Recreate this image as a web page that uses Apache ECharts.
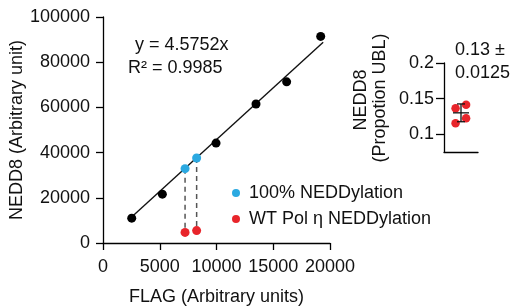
<!DOCTYPE html>
<html>
<head>
<meta charset="utf-8">
<script src="https://cdn.jsdelivr.net/npm/echarts@6/dist/echarts.min.js"></script>
<style>
  html, body { margin: 0; padding: 0; background: #fff; }
  #chart { width: 513px; height: 306px; }
</style>
</head>
<body>
<div id="chart"></div>
<script>
// standard curve: FLAG vs NEDD8 signal
const standardPoints = [[2530, 11000], [5230, 21600], [9960, 44200], [13480, 61500], [16180, 71300], [19180, 91400]];
const fitLine = [[2500, 11400], [19400, 88800]];
const fullNedd = [[7230, 32900], [8250, 37600]];
const wtPolEta = [[7230, 4700], [8250, 5500]];

// proportion panel
const propPoints = [[0.34, 0.1366], [0.34, 0.1155], [0.65, 0.1412], [0.65, 0.1225]];
const propMean = [[0.5, 0.13, 0.0125]];
const propTicks = [0.1, 0.15, 0.2];

const FONT = 'Liberation Sans, Arial, sans-serif';
const BLUE = '#2ba9e1';
const RED = '#e8252b';

const chart = echarts.init(document.getElementById('chart'));

// dashed drop lines from each blue point to its red one
const dropSeries = fullNedd.map((p, i) => ({
    type: 'line', xAxisIndex: 0, yAxisIndex: 0,
    data: [p, wtPolEta[i]],
    symbol: 'none', silent: true, z: 1,
    lineStyle: { color: '#555', width: 1.5, type: [5, 4] }
}));

const plain = v => String(v);

const axisBase = {
    axisLine: { lineStyle: { color: '#000', width: 1.3 } },
    axisTick: { length: 7, lineStyle: { color: '#000', width: 1.3 } },
    axisLabel: { color: '#111', fontSize: 18, fontFamily: FONT, formatter: plain },
    splitLine: { show: false },
    nameTextStyle: { color: '#111', fontSize: 18, fontFamily: FONT }
};

chart.setOption({
    animation: false,
    textStyle: { fontFamily: FONT },
    grid: [
        { left: 103, top: 17, width: 227, height: 226, outerBoundsMode: 'none', containLabel: false },
        { left: 444, top: 63, width: 34, height: 89, outerBoundsMode: 'none', containLabel: false }
    ],
    xAxis: [
        { ...axisBase, type: 'value', gridIndex: 0, min: 0, max: 20000, interval: 5000,
          axisLabel: { ...axisBase.axisLabel, margin: 15 },
          name: 'FLAG (Arbitrary units)', nameLocation: 'middle', nameGap: 45 },
        { type: 'value', gridIndex: 1, min: 0, max: 1,
          axisLine: { onZero: false, lineStyle: { color: '#000', width: 1.3 } },
          axisTick: { show: false }, axisLabel: { show: false }, splitLine: { show: false } }
    ],
    yAxis: [
        { ...axisBase, type: 'value', gridIndex: 0, min: 0, max: 100000, interval: 20000,
          axisLabel: { ...axisBase.axisLabel, margin: 13 },
          name: 'NEDD8 (Arbitrary unit)', nameLocation: 'middle', nameGap: 77 },
        { ...axisBase, type: 'value', gridIndex: 1, min: 0.075, max: 0.2,
          axisTick: { ...axisBase.axisTick, length: 8, customValues: propTicks },
          axisLabel: { ...axisBase.axisLabel, margin: 10, customValues: propTicks } }
    ],
    legend: {
        orient: 'vertical', left: 227, top: 179,
        data: ['100% NEDDylation', 'WT Pol η NEDDylation'],
        icon: 'circle', itemWidth: 8, itemHeight: 8, itemGap: 8,
        textStyle: { color: '#111', fontSize: 18, fontFamily: FONT, lineHeight: 18, padding: [0, 0, 0, 4] }
    },
    graphic: [
        { type: 'text', left: 135, top: 36, style: { text: 'y = 4.5752x', fill: '#111', font: '18px ' + FONT } },
        { type: 'text', left: 128, top: 59, style: { text: 'R² = 0.9985', fill: '#111', font: '18px ' + FONT } },
        { type: 'text', left: 455, top: 41, style: { text: '0.13 ±', fill: '#111', font: '18px ' + FONT } },
        { type: 'text', left: 455, top: 64, style: { text: '0.0125', fill: '#111', font: '18px ' + FONT } },
        { type: 'text', x: 361, y: 100, rotation: Math.PI / 2,
          style: { text: 'NEDD8', fill: '#111', font: '18px ' + FONT, align: 'center', verticalAlign: 'middle' } },
        { type: 'text', x: 380, y: 98, rotation: Math.PI / 2,
          style: { text: '(Propotion UBL)', fill: '#111', font: '18px ' + FONT, align: 'center', verticalAlign: 'middle' } }
    ],
    series: [
        ...dropSeries,
        { type: 'line', xAxisIndex: 0, yAxisIndex: 0, data: fitLine, symbol: 'none', silent: true, z: 2,
          lineStyle: { color: '#111', width: 1.4 } },
        { type: 'scatter', name: 'standard', xAxisIndex: 0, yAxisIndex: 0, data: standardPoints,
          symbolSize: 9, itemStyle: { color: '#000', opacity: 1 }, z: 3 },
        { type: 'scatter', name: '100% NEDDylation', xAxisIndex: 0, yAxisIndex: 0, data: fullNedd,
          symbolSize: 9, itemStyle: { color: BLUE, opacity: 1 }, z: 3 },
        { type: 'scatter', name: 'WT Pol η NEDDylation', xAxisIndex: 0, yAxisIndex: 0, data: wtPolEta,
          symbolSize: 9, itemStyle: { color: RED, opacity: 1 }, z: 3 },
        { type: 'scatter', name: 'proportion', xAxisIndex: 1, yAxisIndex: 1, data: propPoints,
          symbolSize: 8.5, itemStyle: { color: RED, opacity: 1 }, z: 2 },
        { type: 'custom', xAxisIndex: 1, yAxisIndex: 1, data: propMean, z: 3, silent: true,
          renderItem(params, api) {
              const x = api.value(0), m = api.value(1), sd = api.value(2);
              const c = api.coord([x, m]);
              const top = api.coord([x, m + sd]);
              const bot = api.coord([x, m - sd]);
              const st = { stroke: '#111', lineWidth: 1.3 };
              return { type: 'group', children: [
                  { type: 'line', shape: { x1: c[0] - 8, y1: c[1], x2: c[0] + 8, y2: c[1] }, style: st },
                  { type: 'line', shape: { x1: c[0], y1: top[1], x2: c[0], y2: bot[1] }, style: st },
                  { type: 'line', shape: { x1: c[0] - 4, y1: top[1], x2: c[0] + 4, y2: top[1] }, style: st },
                  { type: 'line', shape: { x1: c[0] - 4, y1: bot[1], x2: c[0] + 4, y2: bot[1] }, style: st }
              ] };
          } }
    ]
});
</script>
</body>
</html>
